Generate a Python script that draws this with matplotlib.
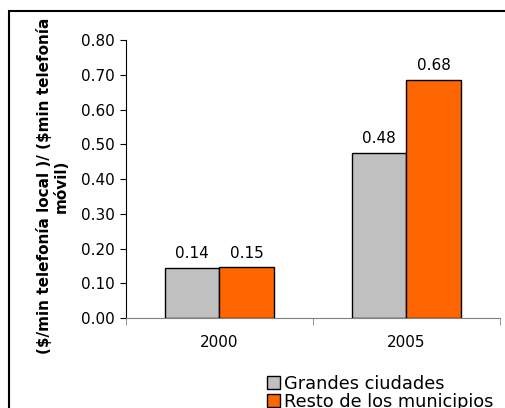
import matplotlib
matplotlib.use("Agg")
import matplotlib.pyplot as plt
from matplotlib.patches import Rectangle
import numpy as np

# data
years = ["2000", "2005"]
grandes = [0.144, 0.476]
resto = [0.146, 0.684]
series_names = ["Grandes ciudades", "Resto de los municipios"]
ylabel = "(\\$/min telefonía local )/ (\\$min telefonía\nmóvil)"

gray = "#c0c0c0"
orange = "#ff6600"

fig = plt.figure(figsize=(5.06, 4.08), dpi=100)
ax = fig.add_axes([0.249, 0.220, 0.739, 0.682])

# outer chart border (runs off the right/bottom of the image)
fig.patches.append(Rectangle((9.5 / 506, -0.1), 1.2, 1 - 10.5 / 408 + 0.1,
                             transform=fig.transFigure, fill=False,
                             edgecolor="black", linewidth=1.5))

x = np.arange(len(years))
w = 0.29
b1 = ax.bar(x - w, grandes, w, align="edge", color=gray, edgecolor="black",
            linewidth=1, label=series_names[0])
b2 = ax.bar(x, resto, w, align="edge", color=orange, edgecolor="black",
            linewidth=1, label=series_names[1])

for bars in (b1, b2):
    for r in bars:
        h = r.get_height()
        ax.annotate(f"{h:.2f}", (r.get_x() + r.get_width() / 2, h),
                    xytext=(0, 5), textcoords="offset points",
                    ha="center", va="bottom", fontsize=11)

ax.set_xlim(-0.5, 1.5)
ax.set_ylim(0, 0.8)
ax.set_yticks(np.arange(0, 0.81, 0.1))
ax.set_yticklabels([f"{v:.2f}" for v in np.arange(0, 0.81, 0.1)], fontsize=11)
ax.set_xticks(x)
ax.set_xticklabels(years, fontsize=11)
ax.set_xticks([-0.5, 0.5, 1.5], minor=True)
ax.tick_params(axis="x", which="major", length=0, pad=12)
ax.tick_params(axis="x", which="minor", length=5, color="#808080")
ax.tick_params(axis="y", length=4, pad=4)

for s in ("top", "right"):
    ax.spines[s].set_visible(False)
ax.spines["bottom"].set_color("#808080")

ax.set_ylabel(ylabel, fontsize=11, fontweight="bold", linespacing=1.2)
ax.yaxis.set_label_coords(-0.152, 0.475)

fig.legend(loc="upper left", bbox_to_anchor=(258 / 506, 1 - 366 / 408),
           frameon=False, fontsize=12.8, handlelength=0.75, handleheight=0.75,
           handletextpad=0.2, labelspacing=0.0, borderpad=0)

fig.savefig("out.png", dpi=100)
